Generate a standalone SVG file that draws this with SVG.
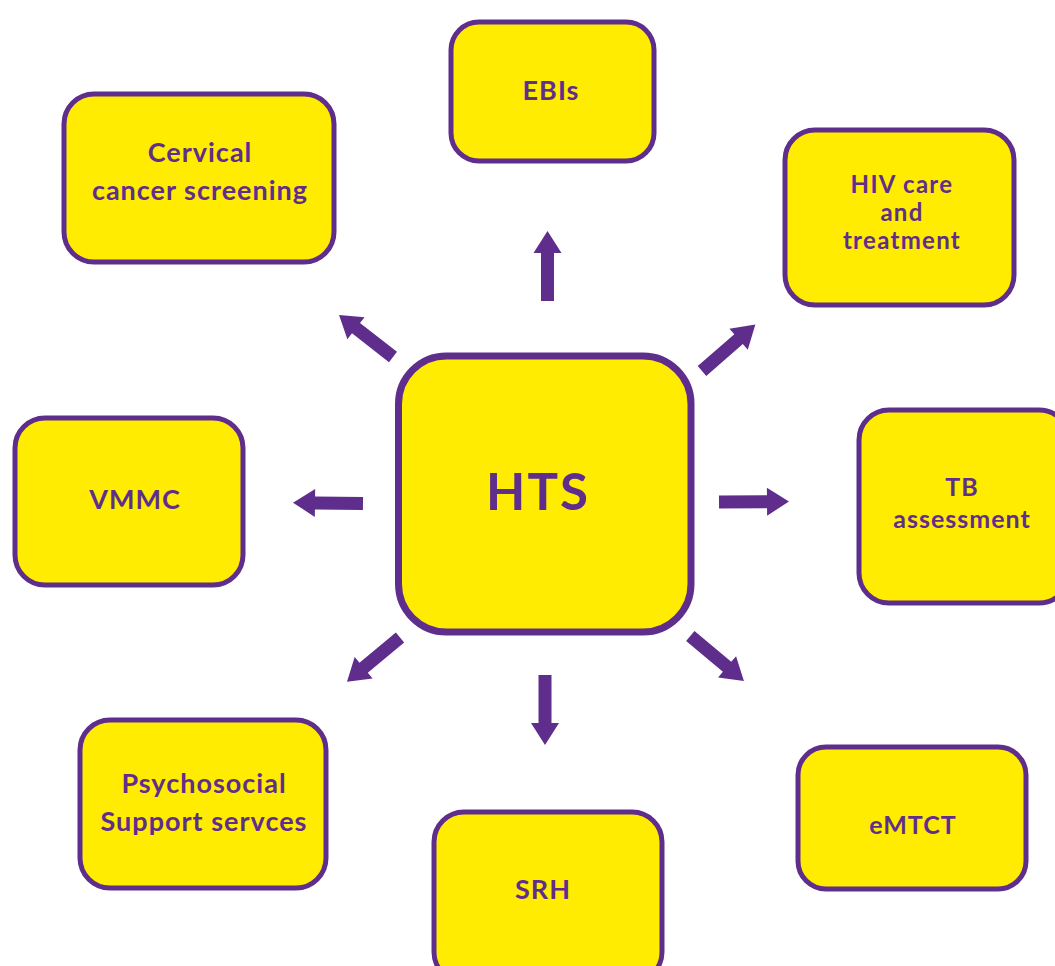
<svg xmlns="http://www.w3.org/2000/svg" width="1055" height="966" viewBox="0 0 1055 966">
<style>
.box{fill:#FFEC00;stroke:#5F2E8C;stroke-width:5}
.hub{fill:#FFEC00;stroke:#5F2E8C;stroke-width:7}
.t{font-family:Lato,"Liberation Sans",sans-serif;font-weight:700;fill:#5F2E8C;text-anchor:middle;letter-spacing:1px}
.arr{fill:#5F2E8C}
</style>
<defs>
<polygon id="a70" points="0,-6.5 48,-6.5 48,-14 70,0 48,14 48,6.5 0,6.5"/>
</defs>
<g id="connectors" class="arr">
<use href="#a70" transform="translate(547.5,301) rotate(-90)"/>
<use href="#a70" transform="translate(545,675) rotate(90)"/>
<use href="#a70" transform="translate(363,503.5) rotate(180.7)"/>
<use href="#a70" transform="translate(719,502) rotate(-0.4)"/>
<use href="#a70" transform="translate(393,357) rotate(-142.1) scale(0.977,1)"/>
<use href="#a70" transform="translate(702,371) rotate(-41) scale(1.01,1)"/>
<use href="#a70" transform="translate(400,637.5) rotate(140.2) scale(0.986,1)"/>
<use href="#a70" transform="translate(690.3,636) rotate(40)"/>
</g>
<g id="hts">
<rect class="hub" x="398.5" y="356" width="292.5" height="276" rx="48"/>
<text class="t" x="538" y="510" font-size="51" style="letter-spacing:2px">HTS</text>
</g>
<g id="ebis">
<rect class="box" x="451" y="22" width="203" height="139" rx="28"/>
<text class="t" x="551" y="100" font-size="27">EBIs</text>
</g>
<g id="cervical">
<rect class="box" x="64" y="94" width="270" height="168" rx="30"/>
<text class="t" x="200" y="162" font-size="27">Cervical</text>
<text class="t" x="200" y="200" font-size="27">cancer screening</text>
</g>
<g id="hiv">
<rect class="box" x="785" y="130" width="229" height="175" rx="30"/>
<text class="t" x="902" y="193" font-size="24" style="letter-spacing:1.3px">HIV care</text>
<text class="t" x="902" y="221" font-size="24" style="letter-spacing:1.3px">and</text>
<text class="t" x="902" y="249" font-size="24" style="letter-spacing:1.3px">treatment</text>
</g>
<g id="vmmc">
<rect class="box" x="15" y="418" width="228" height="167" rx="30"/>
<text class="t" x="135" y="509" font-size="27">VMMC</text>
</g>
<g id="tb">
<rect class="box" x="859" y="410" width="210" height="193" rx="30"/>
<text class="t" x="962" y="496" font-size="25">TB</text>
<text class="t" x="962" y="528" font-size="25">assessment</text>
</g>
<g id="psychosocial">
<rect class="box" x="80" y="720" width="246" height="168" rx="30"/>
<text class="t" x="204" y="793" font-size="27">Psychosocial</text>
<text class="t" x="204" y="831" font-size="27">Support servces</text>
</g>
<g id="srh">
<rect class="box" x="434" y="812" width="228" height="170" rx="30"/>
<text class="t" x="543" y="899" font-size="27">SRH</text>
</g>
<g id="emtct">
<rect class="box" x="798" y="747" width="228" height="142" rx="28"/>
<text class="t" x="913" y="834" font-size="25">eMTCT</text>
</g>
</svg>
